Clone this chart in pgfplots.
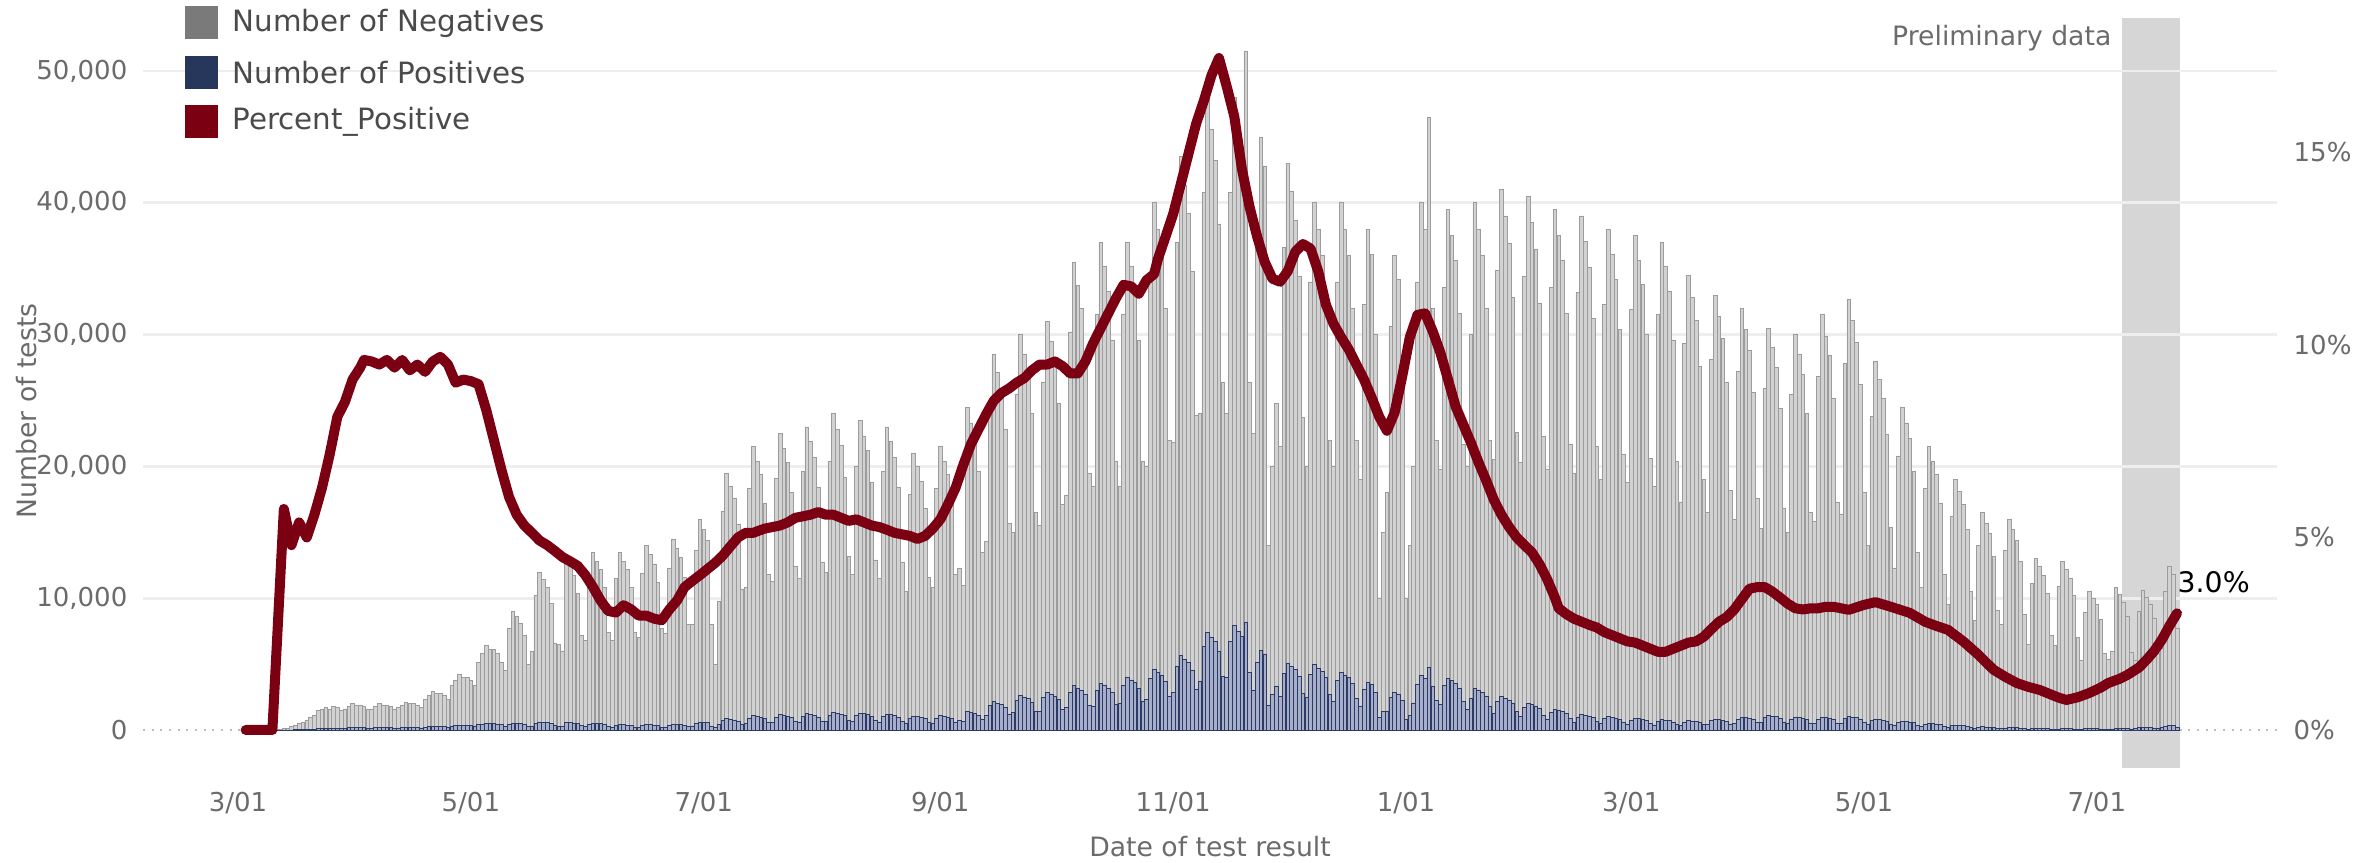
\documentclass[border=0pt]{standalone}
\usepackage{pgfplots}
\pgfplotsset{compat=1.18}
\usepackage{pgfplotstable}
\usepackage{fontspec}
\setmainfont{DejaVu Sans}

\definecolor{tickgray}{HTML}{6B6B6B}
\definecolor{legtext}{HTML}{4A4A4A}
\definecolor{negleg}{HTML}{7A7A7A}
\definecolor{posleg}{HTML}{27375C}
\definecolor{pctred}{HTML}{7B0011}
\definecolor{negfill}{HTML}{D2D2D2}
\definecolor{negedge}{HTML}{9C9C9C}
\definecolor{posfill}{HTML}{A6AECA}
\definecolor{posedge}{HTML}{2C3A66}
\definecolor{gridcol}{HTML}{EEEEEE}
\definecolor{zerocol}{HTML}{BDBDBD}
\definecolor{boxgray}{HTML}{D6D6D6}

\newcommand{\tickfont}{\fontsize{7.8}{9}\selectfont}
\newcommand{\titlefont}{\fontsize{8}{9.6}\selectfont}

% daily tests, thousands (day 0 = 2020-03-01)
\pgfplotstableread[row sep=\\]{
day neg pos \\
10 0.019 0.001 \\ 11 0.047 0.003 \\ 12 0.095 0.005 \\ 13 0.142 0.008 \\
14 0.237 0.013 \\ 15 0.332 0.018 \\ 16 0.474 0.026 \\ 17 0.57 0.03 \\ 18 0.71 0.04 \\ 19 0.95 0.05 \\ 20 1.03 0.07 \\
21 1.4 0.1 \\ 22 1.49 0.11 \\ 23 1.57 0.13 \\ 24 1.47 0.13 \\ 25 1.65 0.15 \\ 26 1.56 0.14 \\ 27 1.37 0.13 \\
28 1.45 0.15 \\ 29 1.63 0.17 \\ 30 1.81 0.19 \\ 31 1.72 0.18 \\ 32 1.72 0.18 \\ 33 1.63 0.17 \\ 34 1.45 0.15 \\
35 1.45 0.15 \\ 36 1.63 0.17 \\ 37 1.81 0.19 \\ 38 1.72 0.18 \\ 39 1.72 0.18 \\ 40 1.63 0.17 \\ 41 1.45 0.15 \\
42 1.54 0.16 \\ 43 1.72 0.18 \\ 44 1.9 0.2 \\ 45 1.81 0.19 \\ 46 1.81 0.19 \\ 47 1.72 0.18 \\ 48 1.54 0.16 \\
49 2.08 0.22 \\ 50 2.35 0.25 \\ 51 2.62 0.28 \\ 52 2.53 0.27 \\ 53 2.53 0.27 \\ 54 2.35 0.25 \\ 55 2.08 0.22 \\
56 3.09 0.31 \\ 57 3.45 0.35 \\ 58 3.82 0.38 \\ 59 3.64 0.36 \\ 60 3.64 0.36 \\ 61 3.45 0.35 \\ 62 3.09 0.31 \\
63 4.69 0.41 \\ 64 5.34 0.46 \\ 65 5.89 0.51 \\ 66 5.61 0.49 \\ 67 5.61 0.49 \\ 68 5.34 0.46 \\ 69 4.69 0.41 \\
70 4.23 0.27 \\ 71 7.24 0.46 \\ 72 8.46 0.54 \\ 73 8.08 0.52 \\ 74 7.61 0.49 \\ 75 6.77 0.43 \\ 76 4.7 0.3 \\
77 5.69 0.31 \\ 78 9.68 0.52 \\ 79 11.39 0.61 \\ 80 10.82 0.58 \\ 81 10.25 0.55 \\ 82 9.11 0.49 \\ 83 6.26 0.34 \\
84 6.2 0.3 \\ 85 5.72 0.28 \\ 86 12.4 0.6 \\ 87 11.83 0.57 \\ 88 11.16 0.54 \\ 89 9.92 0.48 \\ 90 6.87 0.33 \\
91 6.53 0.27 \\ 92 11.04 0.46 \\ 93 12.96 0.54 \\ 94 12.29 0.51 \\ 95 11.71 0.49 \\ 96 10.37 0.43 \\ 97 7.1 0.3 \\
98 6.59 0.21 \\ 99 11.14 0.36 \\ 100 13.08 0.42 \\ 101 12.4 0.4 \\ 102 11.82 0.38 \\ 103 10.47 0.33 \\ 104 7.17 0.23 \\
105 6.79 0.21 \\ 106 11.54 0.36 \\ 107 13.58 0.42 \\ 108 12.9 0.4 \\ 109 12.22 0.38 \\ 110 10.86 0.34 \\ 111 7.47 0.23 \\
112 7.07 0.23 \\ 113 11.91 0.39 \\ 114 14.04 0.46 \\ 115 13.36 0.44 \\ 116 12.68 0.42 \\ 117 11.23 0.37 \\ 118 7.74 0.26 \\
119 7.69 0.31 \\ 120 13.07 0.53 \\ 121 15.38 0.62 \\ 122 14.61 0.59 \\ 123 13.84 0.56 \\ 124 7.69 0.31 \\ 125 4.8 0.2 \\
126 9.37 0.43 \\ 127 15.87 0.73 \\ 128 18.64 0.86 \\ 129 17.69 0.81 \\ 130 16.83 0.77 \\ 131 14.91 0.69 \\ 132 10.23 0.47 \\
133 10.26 0.54 \\ 134 17.38 0.92 \\ 135 20.42 1.08 \\ 136 19.38 1.02 \\ 137 18.43 0.97 \\ 138 16.34 0.86 \\ 139 11.21 0.59 \\
140 10.71 0.59 \\ 141 18.11 0.99 \\ 142 21.33 1.17 \\ 143 20.29 1.11 \\ 144 19.24 1.06 \\ 145 17.06 0.94 \\ 146 11.76 0.64 \\
147 10.88 0.62 \\ 148 18.54 1.06 \\ 149 21.76 1.24 \\ 150 20.72 1.18 \\ 151 19.58 1.12 \\ 152 17.41 0.99 \\ 153 12.01 0.69 \\
154 11.33 0.67 \\ 155 19.26 1.14 \\ 156 22.66 1.34 \\ 157 21.52 1.28 \\ 158 20.39 1.21 \\ 159 18.12 1.08 \\ 160 12.46 0.74 \\
161 11.15 0.65 \\ 162 18.9 1.1 \\ 163 22.21 1.29 \\ 164 21.07 1.23 \\ 165 20.03 1.17 \\ 166 17.77 1.03 \\ 167 12.19 0.71 \\
168 10.89 0.61 \\ 169 18.56 1.04 \\ 170 21.78 1.22 \\ 171 20.74 1.16 \\ 172 19.6 1.1 \\ 173 17.42 0.98 \\ 174 12.03 0.67 \\
175 9.96 0.54 \\ 176 16.99 0.91 \\ 177 19.93 1.07 \\ 178 18.98 1.02 \\ 179 17.94 0.96 \\ 180 15.94 0.86 \\ 181 11.01 0.59 \\
182 10.26 0.54 \\ 183 17.38 0.92 \\ 184 20.42 1.08 \\ 185 19.38 1.02 \\ 186 18.43 0.97 \\ 187 16.34 0.86 \\ 188 11.21 0.59 \\
189 11.59 0.71 \\ 190 10.36 0.64 \\ 191 23.08 1.42 \\ 192 21.95 1.35 \\ 193 20.82 1.28 \\ 194 18.46 1.14 \\ 195 12.72 0.78 \\
196 13.21 1.09 \\ 197 22.36 1.84 \\ 198 26.33 2.17 \\ 199 25.04 2.06 \\ 200 23.75 1.95 \\ 201 21.07 1.73 \\ 202 14.51 1.19 \\
203 13.68 1.32 \\ 204 23.26 2.24 \\ 205 27.36 2.64 \\ 206 25.99 2.51 \\ 207 24.62 2.38 \\ 208 21.89 2.11 \\ 209 15.05 1.45 \\
210 14.06 1.44 \\ 211 23.94 2.46 \\ 212 28.12 2.88 \\ 213 26.76 2.74 \\ 214 25.31 2.59 \\ 215 22.49 2.31 \\ 216 15.51 1.59 \\
217 16.11 1.69 \\ 218 27.33 2.87 \\ 219 32.13 3.37 \\ 220 30.5 3.2 \\ 221 28.96 3.04 \\ 222 25.7 2.7 \\ 223 17.65 1.85 \\
224 16.72 1.78 \\ 225 28.48 3.02 \\ 226 33.45 3.55 \\ 227 31.82 3.38 \\ 228 30.1 3.2 \\ 229 26.76 2.84 \\ 230 18.44 1.96 \\
231 16.5 2.0 \\ 232 28.1 3.4 \\ 233 33.0 4.0 \\ 234 31.4 3.8 \\ 235 29.7 3.6 \\ 236 26.4 3.2 \\ 237 18.2 2.2 \\
238 17.68 2.32 \\ 239 30.06 3.94 \\ 240 35.36 4.64 \\ 241 33.59 4.41 \\ 242 31.82 4.18 \\ 243 28.29 3.71 \\ 244 19.45 2.55 \\
245 18.97 2.83 \\ 246 32.19 4.81 \\ 247 37.84 5.66 \\ 248 35.93 5.37 \\ 249 34.1 5.1 \\ 250 30.28 4.52 \\ 251 20.79 3.11 \\
252 20.28 3.72 \\ 253 34.48 6.32 \\ 254 40.56 7.44 \\ 255 38.53 7.07 \\ 256 36.5 6.7 \\ 257 32.45 5.95 \\ 258 22.31 4.09 \\
259 20.04 3.96 \\ 260 34.07 6.73 \\ 261 40.08 7.92 \\ 262 38.08 7.52 \\ 263 36.07 7.13 \\ 264 43.3 8.2 \\ 265 22.04 4.36 \\
266 19.46 3.04 \\ 267 33.13 5.17 \\ 268 38.92 6.08 \\ 269 37.02 5.78 \\ 270 12.11 1.89 \\ 271 17.3 2.7 \\ 272 21.45 3.35 \\
273 18.96 2.54 \\ 274 32.28 4.32 \\ 275 37.93 5.07 \\ 276 36.07 4.83 \\ 277 34.13 4.57 \\ 278 30.34 4.06 \\ 279 20.9 2.8 \\
280 17.52 2.48 \\ 281 29.78 4.22 \\ 282 35.04 4.96 \\ 283 33.29 4.71 \\ 284 31.54 4.46 \\ 285 28.03 3.97 \\ 286 19.27 2.73 \\
287 17.8 2.2 \\ 288 30.26 3.74 \\ 289 35.6 4.4 \\ 290 33.82 4.18 \\ 291 32.04 3.96 \\ 292 28.48 3.52 \\ 293 19.58 2.42 \\
294 17.2 1.8 \\ 295 29.23 3.07 \\ 296 34.39 3.61 \\ 297 32.67 3.43 \\ 298 27.15 2.85 \\ 299 9.05 0.95 \\ 300 13.57 1.43 \\
301 16.56 1.44 \\ 302 28.15 2.45 \\ 303 33.12 2.88 \\ 304 31.46 2.74 \\ 305 25.76 2.24 \\ 306 9.2 0.8 \\ 307 12.88 1.12 \\
308 17.94 2.06 \\ 309 30.5 3.5 \\ 310 35.88 4.12 \\ 311 34.09 3.91 \\ 312 41.71 4.79 \\ 313 28.7 3.3 \\ 314 19.73 2.27 \\
315 17.82 1.98 \\ 316 30.24 3.36 \\ 317 35.55 3.95 \\ 318 33.75 3.75 \\ 319 32.04 3.56 \\ 320 28.44 3.16 \\ 321 19.53 2.17 \\
322 18.4 1.6 \\ 323 27.6 2.4 \\ 324 36.8 3.2 \\ 325 34.96 3.04 \\ 326 33.12 2.88 \\ 327 29.44 2.56 \\ 328 20.24 1.76 \\
329 19.23 1.27 \\ 330 32.74 2.16 \\ 331 38.46 2.54 \\ 332 36.58 2.42 \\ 333 34.61 2.29 \\ 334 30.77 2.03 \\ 335 21.2 1.4 \\
336 19.28 1.02 \\ 337 32.68 1.72 \\ 338 38.47 2.03 \\ 339 36.57 1.93 \\ 340 34.67 1.83 \\ 341 30.78 1.62 \\ 342 21.18 1.12 \\
343 19.01 0.79 \\ 344 32.26 1.34 \\ 345 37.92 1.58 \\ 346 36.0 1.5 \\ 347 34.18 1.42 \\ 348 30.34 1.26 \\ 349 20.83 0.87 \\
350 18.91 0.59 \\ 351 32.2 1.0 \\ 352 37.83 1.17 \\ 353 35.99 1.11 \\ 354 34.05 1.05 \\ 355 30.26 0.94 \\ 356 20.85 0.65 \\
357 18.49 0.51 \\ 358 31.43 0.87 \\ 359 36.97 1.03 \\ 360 35.13 0.97 \\ 361 33.28 0.92 \\ 362 29.58 0.82 \\ 363 20.34 0.56 \\
364 18.35 0.45 \\ 365 31.13 0.77 \\ 366 36.6 0.9 \\ 367 34.75 0.85 \\ 368 32.99 0.81 \\ 369 29.28 0.72 \\ 370 20.11 0.49 \\
371 18.11 0.39 \\ 372 30.84 0.66 \\ 373 36.22 0.78 \\ 374 34.46 0.74 \\ 375 32.6 0.7 \\ 376 28.98 0.62 \\ 377 19.97 0.43 \\
378 16.94 0.36 \\ 379 28.68 0.62 \\ 380 33.78 0.72 \\ 381 32.11 0.69 \\ 382 30.45 0.65 \\ 383 27.02 0.58 \\ 384 18.6 0.4 \\
385 16.09 0.41 \\ 386 27.4 0.7 \\ 387 32.17 0.83 \\ 388 30.61 0.79 \\ 389 28.96 0.74 \\ 390 25.74 0.66 \\ 391 17.74 0.46 \\
392 15.5 0.5 \\ 393 26.36 0.84 \\ 394 31.01 0.99 \\ 395 29.46 0.94 \\ 396 27.91 0.89 \\ 397 24.81 0.79 \\ 398 17.05 0.55 \\
399 14.73 0.57 \\ 400 24.94 0.96 \\ 401 29.37 1.13 \\ 402 27.93 1.07 \\ 403 26.48 1.02 \\ 404 23.5 0.9 \\ 405 16.18 0.62 \\
406 14.5 0.5 \\ 407 24.66 0.84 \\ 408 29.01 0.99 \\ 409 27.56 0.94 \\ 410 26.11 0.89 \\ 411 23.21 0.79 \\ 412 15.96 0.54 \\
413 15.31 0.49 \\ 414 25.97 0.83 \\ 415 30.52 0.98 \\ 416 28.97 0.93 \\ 417 27.52 0.88 \\ 418 24.42 0.78 \\ 419 16.76 0.54 \\
420 15.88 0.52 \\ 421 26.91 0.89 \\ 422 31.65 1.05 \\ 423 30.1 1.0 \\ 424 28.46 0.94 \\ 425 25.36 0.84 \\ 426 17.42 0.58 \\
427 13.58 0.42 \\ 428 23.09 0.71 \\ 429 27.16 0.84 \\ 430 25.8 0.8 \\ 431 24.44 0.76 \\ 432 21.73 0.67 \\ 433 14.94 0.46 \\
434 11.96 0.34 \\ 435 20.22 0.58 \\ 436 23.81 0.69 \\ 437 22.65 0.65 \\ 438 21.48 0.62 \\ 439 19.05 0.55 \\ 440 13.12 0.38 \\
441 10.54 0.26 \\ 442 17.86 0.44 \\ 443 20.98 0.52 \\ 444 19.91 0.49 \\ 445 18.93 0.47 \\ 446 16.79 0.41 \\ 447 11.52 0.28 \\
448 9.31 0.19 \\ 449 15.88 0.32 \\ 450 18.62 0.38 \\ 451 17.74 0.36 \\ 452 16.76 0.34 \\ 453 14.9 0.3 \\ 454 10.29 0.21 \\
455 8.18 0.12 \\ 456 13.79 0.21 \\ 457 16.25 0.25 \\ 458 15.46 0.24 \\ 459 14.68 0.22 \\ 460 13.0 0.2 \\ 461 8.96 0.14 \\
462 7.9 0.1 \\ 463 13.44 0.16 \\ 464 15.81 0.19 \\ 465 15.02 0.18 \\ 466 14.23 0.17 \\ 467 12.65 0.15 \\ 468 8.69 0.11 \\
469 6.43 0.07 \\ 470 10.99 0.11 \\ 471 12.87 0.13 \\ 472 12.28 0.12 \\ 473 11.58 0.12 \\ 474 10.3 0.1 \\ 475 7.13 0.07 \\
476 6.35 0.05 \\ 477 10.81 0.09 \\ 478 12.69 0.11 \\ 479 12.1 0.1 \\ 480 11.4 0.1 \\ 481 10.11 0.09 \\ 482 6.94 0.06 \\
483 5.24 0.06 \\ 484 8.8 0.1 \\ 485 10.38 0.12 \\ 486 9.89 0.11 \\ 487 9.4 0.1 \\ 488 8.31 0.09 \\ 489 5.74 0.06 \\
490 5.32 0.08 \\ 491 5.91 0.09 \\ 492 10.64 0.16 \\ 493 10.15 0.15 \\ 494 9.55 0.15 \\ 495 8.47 0.13 \\ 496 5.81 0.09 \\
497 5.2 0.1 \\ 498 8.83 0.17 \\ 499 10.4 0.2 \\ 500 9.91 0.19 \\ 501 9.32 0.18 \\ 502 8.34 0.16 \\ 503 5.69 0.11 \\
504 6.03 0.17 \\ 505 10.22 0.28 \\ 506 12.07 0.33 \\ 507 11.48 0.32 \\ 508 7.49 0.21 \\
}\tests

\begin{document}
\begin{tikzpicture}
\useasboundingbox (0,0) rectangle (711.3pt,258.9pt);

% background: preliminary-data band and dotted zero line
\begin{axis}[
  at={(42.9pt,28.5pt)}, anchor=south west,
  scale only axis, width=640.2pt, height=225pt,
  xmin=-24.9, xmax=534.2, ymin=-2.88, ymax=54.02,
  hide axis,
]
\fill[boxgray] (axis cs:493.6,-2.88) rectangle (axis cs:508.8,54.02);
\draw[zerocol, line width=0.6pt, dotted] (axis cs:-24.9,0) -- (axis cs:534.2,0);
\end{axis}

\begin{axis}[
  at={(42.9pt,28.5pt)}, anchor=south west,
  scale only axis, width=640.2pt, height=225pt,
  xmin=-24.9, xmax=534.2, ymin=-2.88, ymax=54.02,
  axis line style={draw=none}, major tick length=0pt,
  xtick={0,61,122,184,245,306,365,426,487},
  xticklabels={3/01,5/01,7/01,9/01,11/01,1/01,3/01,5/01,7/01},
  ytick={10,20,30,40,50},
  yticklabels={{10,000},{20,000},{30,000},{40,000},{50,000}},
  extra y ticks={0}, extra y tick labels={0},
  extra y tick style={grid=none},
  ymajorgrids, grid style={gridcol, line width=0.8pt},
  xticklabel style={font=\tickfont, text=tickgray, anchor=center, inner sep=0pt, yshift=-10.5pt},
  yticklabel style={font=\tickfont, text=tickgray, anchor=east, inner sep=0pt, xshift=-4.5pt},
  ybar stacked, bar width=0.95,
]
\addplot[fill=posfill, draw=posedge, line width=0.2pt] table[x=day, y=pos] {\tests};
\addplot[fill=negfill, draw=negedge, line width=0.2pt] table[x=day, y=neg] {\tests};
\end{axis}

\begin{axis}[
  at={(42.9pt,28.5pt)}, anchor=south west,
  scale only axis, width=640.2pt, height=225pt,
  xmin=-24.9, xmax=534.2, ymin=-0.987, ymax=18.49,
  hide x axis, axis line style={draw=none}, major tick length=0pt,
  ytick={0,5,10,15}, yticklabels={0\%,5\%,10\%,15\%},
  yticklabel pos=right,
  yticklabel style={font=\tickfont, text=tickgray, anchor=west, inner sep=0pt, xshift=4.8pt},
]
\addplot[pctred, line width=3pt, line join=round, line cap=round] coordinates {
(2,0) (4,0) (6,0) (8,0) (9,0) (12,5.74) (14,4.80) (16,5.39) (18,5.00) (20,5.59) (22,6.29) (24,7.15)
(26,8.13) (28,8.52) (30,9.10) (32,9.41) (33,9.61) (35,9.57) (37,9.49) (39,9.61) (41,9.41) (43,9.61)
(45,9.34) (47,9.49) (49,9.30) (51,9.57) (53,9.69) (55,9.49) (57,9.02) (59,9.10) (61,9.06) (63,8.98)
(65,8.32) (67,7.54) (69,6.76) (71,6.05) (73,5.59) (75,5.31) (77,5.12) (79,4.92) (81,4.80) (83,4.65)
(85,4.49) (87,4.38) (89,4.26) (91,4.02) (93,3.71) (95,3.36) (97,3.09) (99,3.05) (101,3.24) (103,3.13)
(105,2.97) (107,2.97) (109,2.89) (111,2.85) (113,3.13) (115,3.36) (117,3.71) (119,3.87) (121,4.02)
(123,4.18) (125,4.34) (127,4.53) (129,4.77) (131,5.00) (133,5.12) (135,5.12) (136,5.16) (138,5.23)
(140,5.27) (142,5.31) (144,5.39) (146,5.51) (148,5.55) (150,5.59) (152,5.66) (154,5.59) (156,5.59)
(158,5.51) (160,5.43) (162,5.47) (164,5.39) (166,5.31) (168,5.27) (170,5.20) (172,5.12) (174,5.08)
(176,5.04) (178,4.96) (180,5.04) (182,5.23) (184,5.47) (186,5.86) (188,6.29) (190,6.88) (192,7.42)
(194,7.81) (196,8.20) (198,8.55) (200,8.75) (202,8.87) (204,9.02) (206,9.14) (208,9.34) (210,9.49)
(212,9.49) (214,9.57) (216,9.45) (218,9.26) (220,9.26) (222,9.57) (224,10.04) (226,10.43) (228,10.82)
(230,11.21) (232,11.56) (234,11.52) (236,11.33) (238,11.68) (240,11.84) (241,12.23) (243,12.81)
(245,13.40) (247,14.18) (249,14.96) (251,15.74) (253,16.33) (255,16.99) (257,17.45) (259,16.72)
(261,15.94) (263,14.57) (265,13.59) (267,12.81) (269,12.15) (271,11.72) (273,11.64) (275,11.91)
(277,12.42) (279,12.62) (281,12.50) (283,11.91) (285,11.05) (287,10.55) (289,10.20) (291,9.88)
(293,9.49) (295,9.10) (297,8.63) (299,8.13) (301,7.77) (303,8.24) (305,9.18) (307,10.20) (309,10.78)
(311,10.82) (313,10.35) (315,9.80) (317,9.10) (319,8.40) (321,7.93) (323,7.46) (325,6.95) (327,6.48)
(329,5.98) (331,5.59) (333,5.27) (335,5.00) (337,4.80) (339,4.61) (341,4.30) (343,3.91) (345,3.44)
(346,3.16) (348,3.01) (350,2.89) (352,2.81) (354,2.73) (356,2.66) (358,2.54) (360,2.46) (362,2.38)
(364,2.30) (366,2.27) (368,2.19) (370,2.11) (372,2.03) (374,2.03) (376,2.11) (378,2.19) (380,2.27)
(382,2.30) (384,2.42) (386,2.62) (388,2.81) (390,2.93) (392,3.13) (394,3.40) (396,3.67) (398,3.71)
(400,3.71) (402,3.59) (404,3.44) (406,3.28) (408,3.16) (410,3.13) (412,3.16) (414,3.16) (416,3.20)
(418,3.20) (420,3.16) (422,3.12) (426,3.25) (429,3.32) (433,3.20) (438,3.04) (442,2.81) (445,2.70)
(448,2.60) (452,2.30) (456,1.95) (458,1.75) (460,1.56) (463,1.38) (466,1.22) (469,1.12) (472,1.04)
(475,0.92) (477,0.84) (479,0.78) (482,0.85) (485,0.96) (488,1.10) (490,1.22) (493,1.33) (495,1.43)
(498,1.62) (500,1.82) (502,2.05) (504,2.34) (506,2.70) (508,3.03)
};
\end{axis}

% legend
\fill[negleg] (55.5pt,247.05pt) rectangle (65.4pt,256.95pt);
\fill[posleg] (55.5pt,232.05pt) rectangle (65.4pt,241.95pt);
\fill[pctred] (55.5pt,217.35pt) rectangle (65.4pt,227.25pt);
\node[anchor=west, inner sep=0pt, font=\fontsize{8.8}{10}\selectfont, text=legtext] at (69.6pt,252pt) {Number of Negatives};
\node[anchor=west, inner sep=0pt, font=\fontsize{8.8}{10}\selectfont, text=legtext] at (69.6pt,237pt) {Number of Positives};
\node[anchor=west, inner sep=0pt, font=\fontsize{8.8}{10}\selectfont, text=legtext] at (69.6pt,222.3pt) {Percent\_Positive};

% titles and annotations
\node[inner sep=0pt, font=\titlefont, text=tickgray] at (363pt,4.8pt) {Date of test result};
\node[inner sep=0pt, font=\titlefont, text=tickgray, rotate=90] at (8.1pt,135.6pt) {Number of tests};
\node[anchor=east, inner sep=0pt, font=\titlefont, text=tickgray] at (633.6pt,247.5pt) {Preliminary data};
\node[anchor=west, inner sep=0pt, font=\fontsize{8.5}{10}\selectfont, text=black] at (653.1pt,84.3pt) {3.0\%};
\end{tikzpicture}
\end{document}
